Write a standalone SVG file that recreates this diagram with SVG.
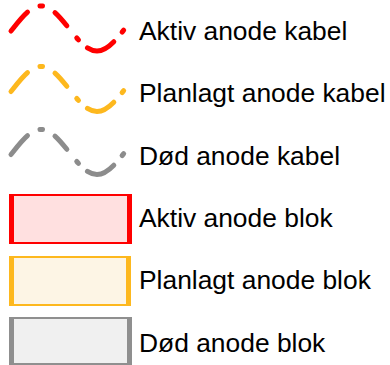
<svg xmlns="http://www.w3.org/2000/svg" width="390" height="365" viewBox="0 0 390 365">
  <style>
    .lbl { font-family: "Liberation Sans", Arial, sans-serif; font-size: 26.4px; fill: #000; }
    .wave { fill: none; stroke-width: 5; stroke-linecap: round; stroke-dasharray: 25 14.2 2.5 14.3 17.8 15.6 2.5 12 30.1 12.6 2.5 100; }
  </style>
  <defs>
    <path id="sine" d="M11,31 L13,28.5 C22.13,16.97 30.87,6 41,6 C51.13,6 59.87,16.97 69,28.5 C78.13,40.03 86.87,51 97,51 C107.13,51 115.87,40.03 125,28.5"/>
  </defs>
  <rect width="390" height="365" fill="#fff"/>
  <g id="aktiv-kabel">
    <use href="#sine" class="wave" stroke="#ff0000"/>
    <text class="lbl" x="139" y="40">Aktiv anode kabel</text>
  </g>
  <g id="planlagt-kabel">
    <use href="#sine" class="wave" stroke="#fdb81e" transform="translate(0,60.5)"/>
    <text class="lbl" x="139" y="102">Planlagt anode kabel</text>
  </g>
  <g id="doed-kabel">
    <use href="#sine" class="wave" stroke="#8c8c8c" transform="translate(0,123.5)"/>
    <text class="lbl" x="139" y="165">Død anode kabel</text>
  </g>
  <g id="aktiv-blok">
    <rect x="9" y="194" width="123" height="50" fill="#ff0000"/>
    <rect x="14" y="196" width="113" height="46" fill="#ffe0e0"/>
    <text class="lbl" x="139" y="227">Aktiv anode blok</text>
  </g>
  <g id="planlagt-blok">
    <rect x="9" y="256" width="122" height="50" fill="#fdb81e"/>
    <rect x="14" y="258" width="112" height="46" fill="#fdf5e5"/>
    <text class="lbl" x="139" y="289">Planlagt anode blok</text>
  </g>
  <g id="doed-blok">
    <rect x="9" y="317" width="123" height="48" fill="#8f8f8f"/>
    <rect x="14" y="319" width="113" height="44" fill="#f0f0f0"/>
    <text class="lbl" x="139" y="352">Død anode blok</text>
  </g>
</svg>
